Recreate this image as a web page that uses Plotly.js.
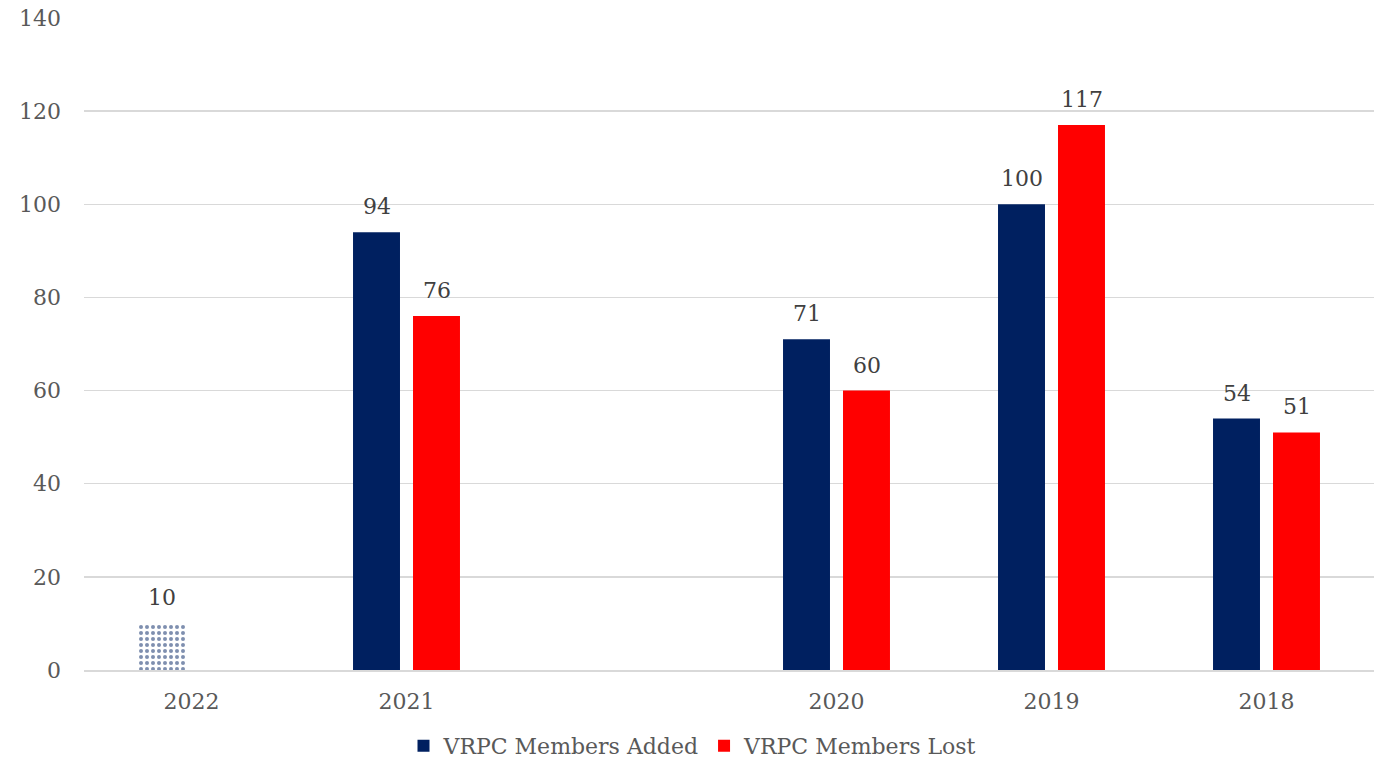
<!DOCTYPE html>
<html>
<head>
<meta charset="utf-8">
<script src="https://cdn.plot.ly/plotly-3.0.1.min.js"></script>
<style>html,body{margin:0;padding:0;background:#fff;}#chart{width:1386px;height:767px;}</style>
</head>
<body>
<div id="chart"></div>
<script>
// Data
const categories = ["2022", "2021", "", "2020", "2019", "2018"];
const membersAdded = [10, 94, null, 71, 100, 54];
const membersLost = [null, 76, null, 60, 117, 51];
const patternedPoints = [true, false, false, false, false, false]; // partial-year bar
const seriesNames = ["VRPC Members Added", "VRPC Members Lost"];

const NAVY = "#002060", RED = "#FF0000";
const FONT = "DejaVu Serif, Liberation Serif, serif";
const idx = categories.map((c, i) => i);

const solidAdded = membersAdded.map((v, i) => patternedPoints[i] ? null : v);
const patternAdded = membersAdded.map((v, i) => patternedPoints[i] ? v : null);

const traces = [
  {type: "bar", name: seriesNames[0], x: idx, y: solidAdded, offsetgroup: "a",
   marker: {color: NAVY}, hoverinfo: "y"},
  {type: "bar", name: seriesNames[1], x: idx, y: membersLost, offsetgroup: "b",
   marker: {color: RED}, hoverinfo: "y"},
  {type: "bar", name: seriesNames[0] + " (partial)", x: idx, y: patternAdded, offsetgroup: "a",
   showlegend: false, hoverinfo: "y",
   marker: {color: "#ffffff", pattern: {shape: ".", fgcolor: NAVY, bgcolor: "#ffffff", size: 6, solidity: 0.35, fillmode: "overlay"}}}
];

const annotations = [];
membersAdded.forEach((v, i) => {
  if (v !== null) annotations.push({x: i, y: v, xref: "x", yref: "y", text: String(v), showarrow: false,
    xshift: -30, yshift: 11, yanchor: "bottom", font: {family: FONT, size: 22, color: "#404040"}});
});
membersLost.forEach((v, i) => {
  if (v !== null) annotations.push({x: i, y: v, xref: "x", yref: "y", text: String(v), showarrow: false,
    xshift: 30, yshift: 11, yanchor: "bottom", font: {family: FONT, size: 22, color: "#404040"}});
});

const layout = {
  width: 1386, height: 767,
  margin: {l: 84, r: 12, t: 18, b: 97},
  paper_bgcolor: "#fff", plot_bgcolor: "#fff",
  barmode: "group", bargap: 0.442, bargroupgap: 0.217,
  font: {family: FONT, size: 22, color: "#595959"},
  xaxis: {range: [-0.5, 5.5], tickvals: idx, ticktext: categories, showgrid: false,
    showline: true, linecolor: "#D9D9D9", linewidth: 1.5, ticks: "", zeroline: false,
    ticklabelstandoff: 11,
    tickfont: {family: FONT, size: 22, color: "#595959"}, fixedrange: true},
  yaxis: {range: [0, 140], dtick: 20, showgrid: true, gridcolor: "#D9D9D9", gridwidth: 1.5,
    zeroline: false, showline: false, ticks: "", ticklabelstandoff: 22,
    tickfont: {family: FONT, size: 22, color: "#595959"}, fixedrange: true},
  legend: {orientation: "h", x: 0.5, xanchor: "center", xref: "container", yref: "container",
    y: -0.012, yanchor: "bottom",
    font: {family: FONT, size: 22, color: "#595959"}, itemwidth: 30, tracegroupgap: 0},
  annotations: annotations,
  showlegend: true
};

Plotly.newPlot("chart", traces, layout, {displayModeBar: false, staticPlot: true});
</script>
</body>
</html>
